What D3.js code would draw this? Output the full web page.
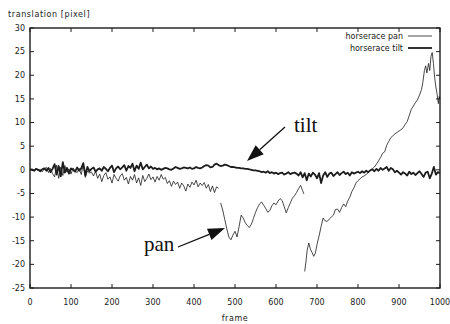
<!DOCTYPE html>
<html>
<head>
<meta charset="utf-8">
<script src="https://cdn.jsdelivr.net/npm/d3@7"></script>
<style>
  html, body { margin: 0; padding: 0; background: #fff; }
  svg { display: block; }
  .tick-label, .axis-title, .legend-text { font-family: "DejaVu Sans", sans-serif; font-size: 8px; fill: #1a1a1a; }
  .axis-title { letter-spacing: 0.6px; }
  .note { font-family: "Liberation Serif", "DejaVu Serif", serif; font-size: 21px; fill: #111; }
</style>
</head>
<body>
<svg id="chart" width="450" height="324"></svg>
<script>
// Camera translation per frame for the horserace sequence
const xTicks = [0, 100, 200, 300, 400, 500, 600, 700, 800, 900, 1000];
const yTicks = [30, 25, 20, 15, 10, 5, 0, -5, -10, -15, -20, -25];

// tilt, sampled every 5 frames (0..1000)
const tiltValues = [
  0.1, 0.0, -0.2, 0.2, 0.0, -0.3, 0.1, 0.3, -0.2, 0.4, -0.5, 0.2,
  1.2, -1.0, 0.8, -1.4, 1.6, -0.6, 0.4, -0.8, 0.3, 0.0, -0.4, 0.5, -0.2, 0.3, 1.4, -1.2, 0.6, -0.3,
  0.2, 0.5, -0.4, 0.1, 0.3, -0.2, 0.6, 0.2, -0.3, 0.4, 0.9, -0.5, 0.3, 0.7, 0.1, 0.5, 1.0, -0.2, 0.8, 0.4, 1.3, -0.3, 0.9, 0.2, 1.5, 0.1, 0.6, 1.1, 0.3, 0.7,
  0.2, 0.4, 0.1, 0.3, 0.0, 0.2, 0.4, 0.3, 0.1, 0.0, 0.3, 0.6, 0.4, 0.2, 0.3, 0.5, 0.4, 0.3, 0.5, 0.2, 0.3, 0.6, 0.4, 0.3, 0.5, 0.8, 1.0, 0.9, 0.5, 0.6, 1.1, 1.3,
  1.0, 0.8, 0.9, 1.1, 1.0, 0.8, 0.6, 0.6, 0.5, 0.4, 0.4, 0.3, 0.3, 0.2, 0.2, 0.1, 0.0, -0.1, -0.1, -0.2,
  -0.3, -0.5, -0.4, -0.6, -0.3, -0.7, -0.5, -0.8, -0.6, -0.9, -0.7, -0.6, -1.0, -0.8, -0.5, -0.9, -0.7, -0.6, -0.8, -1.2, -0.5, -1.6, -0.7, -2.2, -0.8, -1.4, -0.6, -1.0,
  -1.8, -0.7, -2.8, -1.2, -0.5, -1.5, -0.8, -0.6, -1.3, -0.9, -0.5, -1.1, -0.7, -0.4, -0.9, -0.6, -1.2, -0.5, -0.8, -0.6,
  -0.4, -0.7, -0.3, -0.6, -0.2, -0.5, -0.1, 0.1, -0.3, 0.2, -0.2, 0.4, 0.0, 0.3, 0.6, -0.2, 0.4, 0.1, -0.5, -0.2,
  -0.6, -1.0, -0.5, -0.8, -1.2, -0.4, -0.9, -0.6, -1.1, -0.7, -0.3, -0.9, -1.5, -0.6, -0.4, -1.8, -0.8, 0.6, -1.0, -0.5, -0.7
];

// pan, first tracked run, sampled every 5 frames (0..460)
const panRun1Values = [
  0.0, 0.2, -0.1, 0.3, -0.2, 0.1, -0.4, 0.2, 0.5, -0.6, 0.3, -0.8,
  -1.5, 1.0, -1.8, 0.6, -1.2, 0.9, -0.5, 0.2, -0.9, 0.4, -0.2, -0.6, 0.3, -1.0, 1.2, -1.6, -0.2, -0.7,
  -0.5, -1.3, -0.3, -1.8, -0.9, -2.5, -1.2, -0.6, -2.0, -1.5, -2.8, -1.0, -1.8, -2.4, -1.3, -0.8, -2.2, -1.6, -3.0, -1.4,
  -2.2, -1.0, -2.8, -1.7, -3.3, -1.2, -2.5, -1.8, -0.9, -2.1, -1.5, -2.6, -1.4, -2.2, -1.0, -2.0, -1.6, -2.9, -2.3, -3.5,
  -2.4, -3.1, -2.6, -3.9, -2.8, -3.4, -4.5, -3.0, -3.7, -2.6, -3.2, -2.2, -3.6, -2.8, -3.3, -2.7, -3.9, -3.1, -4.6, -3.4, -4.8, -3.6, -3.9
];

// pan, second run
const panRun2Frames = [465, 470, 475, 480, 485, 490, 495, 500, 505, 510, 515, 520, 525, 530, 535, 540, 545, 550, 555, 560, 565, 570, 575, 580, 585, 590, 595, 600, 605, 610, 615, 620, 625, 630, 635, 640, 645, 650, 655, 660, 665, 668];
const panRun2Values = [-7.0, -8.5, -10.5, -12.5, -14.2, -14.8, -13.8, -13.0, -14.2, -12.0, -9.6, -10.2, -11.2, -11.8, -12.2, -11.5, -10.3, -9.0, -8.0, -7.2, -6.8, -7.5, -8.2, -9.0, -8.6, -7.6, -7.0, -7.4, -6.6, -6.1, -6.5, -7.8, -9.1, -8.0, -7.0, -6.0, -5.5, -4.8, -4.0, -3.3, -4.4, -5.1];

// pan, third run
const panRun3Frames = [670, 673, 676, 680, 684, 688, 692, 696, 700, 705, 710, 715, 720, 725, 730, 735, 740, 745, 750, 755, 760, 765, 770, 775, 780, 785, 790, 795, 800, 805, 810, 815, 820, 825, 830, 835, 840, 845, 850, 855, 860, 865, 870, 875, 880, 885, 890, 895, 900, 905, 910, 915, 920, 925, 930, 935, 940, 945, 950, 955, 958, 962, 965, 968, 972, 975, 978, 981, 984, 987, 990, 993, 996, 998, 1000];
const panRun3Values = [-21.5, -19.5, -17.0, -15.5, -16.8, -17.5, -18.3, -17.6, -15.8, -14.0, -12.0, -10.2, -10.8, -10.9, -10.4, -10.0, -9.6, -8.4, -8.3, -9.0, -8.0, -7.2, -7.8, -6.6, -5.8, -4.6, -3.8, -2.8, -2.3, -1.9, -1.5, -1.3, -1.0, -0.6, -0.1, 0.2, 0.6, 1.2, 1.9, 2.6, 3.5, 3.8, 5.2, 6.0, 6.8, 7.2, 7.6, 7.9, 8.2, 8.5, 8.9, 9.6, 10.2, 11.5, 12.8, 13.5, 14.2, 14.8, 15.8, 17.0, 18.4, 21.0, 22.0, 20.5, 22.5, 21.0, 24.0, 24.8, 22.5, 19.5, 17.5, 16.0, 14.0, 15.5, 15.0];

const seriesNames = ["horserace pan", "horserace tilt"];

const svg = d3.select("#chart");
const plotLeft = 30, plotRight = 440, plotTop = 28, plotBottom = 288;

const x = d3.scaleLinear().domain([0, 1000]).range([plotLeft, plotRight]);
const y = d3.scaleLinear().domain([-25, 30]).range([plotBottom, plotTop]);

const ink = "#1c1c1c";

// frame box
svg.append("rect")
  .attr("x", plotLeft).attr("y", plotTop)
  .attr("width", plotRight - plotLeft).attr("height", plotBottom - plotTop)
  .attr("fill", "none").attr("stroke", ink).attr("stroke-width", 1.4);

// inward ticks on all four sides
const tl = 4;
const ticks = svg.append("g").attr("stroke", ink).attr("stroke-width", 1);
xTicks.forEach(v => {
  ticks.append("line").attr("x1", x(v)).attr("x2", x(v)).attr("y1", plotBottom).attr("y2", plotBottom - tl);
  ticks.append("line").attr("x1", x(v)).attr("x2", x(v)).attr("y1", plotTop).attr("y2", plotTop + tl);
});
yTicks.forEach(v => {
  ticks.append("line").attr("x1", plotLeft).attr("x2", plotLeft + tl).attr("y1", y(v)).attr("y2", y(v));
  ticks.append("line").attr("x1", plotRight).attr("x2", plotRight - tl).attr("y1", y(v)).attr("y2", y(v));
});

// tick labels
svg.append("g").selectAll("text").data(xTicks).join("text")
  .attr("class", "tick-label")
  .attr("x", d => x(d)).attr("y", 305)
  .attr("text-anchor", "middle")
  .text(d => d);
svg.append("g").selectAll("text").data(yTicks).join("text")
  .attr("class", "tick-label")
  .attr("x", 25).attr("y", d => y(d)).attr("dy", "0.35em")
  .attr("text-anchor", "end")
  .text(d => d);

svg.append("text").attr("class", "axis-title").attr("x", 8).attr("y", 17).text("translation [pixel]");
svg.append("text").attr("class", "axis-title").attr("x", (plotLeft + plotRight) / 2).attr("y", 321)
  .attr("text-anchor", "middle").text("frame");

const line = d3.line().x(d => x(d[0])).y(d => y(d[1]));

const tiltPts = tiltValues.map((v, i) => [i * 5, v]);
const panRuns = [
  panRun1Values.map((v, i) => [i * 5, v]),
  panRun2Frames.map((f, i) => [f, panRun2Values[i]]),
  panRun3Frames.map((f, i) => [f, panRun3Values[i]])
];

// pan: thin line
panRuns.forEach(run => {
  svg.append("path").datum(run).attr("d", line)
    .attr("fill", "none").attr("stroke", ink).attr("stroke-width", 0.8)
    .attr("stroke-linejoin", "round");
});
// tilt: thick line
svg.append("path").datum(tiltPts).attr("d", line)
  .attr("fill", "none").attr("stroke", ink).attr("stroke-width", 1.8)
  .attr("stroke-linejoin", "round");

// legend
const legend = svg.append("g");
seriesNames.forEach((name, i) => {
  const ly = 36 + i * 12;
  legend.append("text").attr("class", "legend-text")
    .attr("x", 403).attr("y", ly).attr("dy", "0.35em").attr("text-anchor", "end").text(name);
  legend.append("line").attr("x1", 408).attr("x2", 432).attr("y1", ly).attr("y2", ly)
    .attr("stroke", ink).attr("stroke-width", i === 0 ? 0.8 : 1.8);
});

// annotation arrows
function arrow(x0, y0, x1, y1, headLen, headW) {
  const dx = x1 - x0, dy = y1 - y0, len = Math.hypot(dx, dy);
  const ux = dx / len, uy = dy / len;
  const bx = x1 - ux * headLen, by = y1 - uy * headLen;
  svg.append("line").attr("x1", x0).attr("y1", y0).attr("x2", bx).attr("y2", by)
    .attr("stroke", "#111").attr("stroke-width", 1.3);
  svg.append("path")
    .attr("d", `M${x1},${y1}L${bx - uy * headW / 2},${by + ux * headW / 2}L${bx + uy * headW / 2},${by - ux * headW / 2}Z`)
    .attr("fill", "#111");
}

svg.append("text").attr("class", "note").attr("x", 294).attr("y", 132).text("tilt");
arrow(285, 127, 247, 161, 17, 12);

svg.append("text").attr("class", "note").attr("x", 144).attr("y", 251).text("pan");
arrow(178, 247, 225, 228, 17, 12);
</script>
</body>
</html>
